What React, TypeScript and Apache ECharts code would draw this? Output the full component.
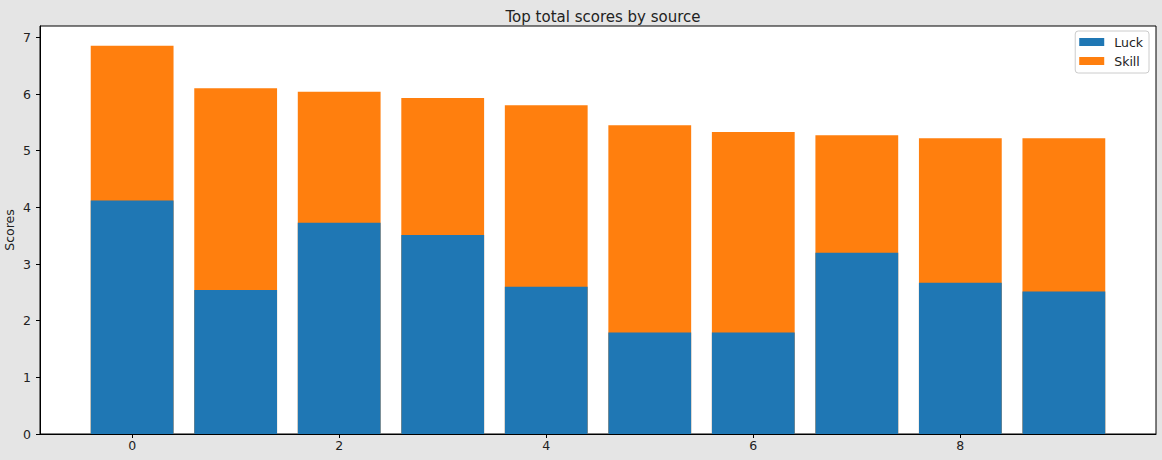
import React, { useEffect, useRef } from "react";
import * as echarts from "echarts";

const positions = [0, 1, 2, 3, 4, 5, 6, 7, 8, 9];
const luck = [4.12, 2.54, 3.73, 3.51, 2.6, 1.79, 1.79, 3.2, 2.67, 2.515];
const skill = [2.73, 3.56, 2.31, 2.42, 3.2, 3.66, 3.54, 2.07, 2.55, 2.705];
const xTicks = [0, 2, 4, 6, 8];
const yTicks = [0, 1, 2, 3, 4, 5, 6, 7];

const FONT = "DejaVu Sans";
const TXT = "#222";

export default function App() {
  const ref = useRef<HTMLDivElement>(null);
  useEffect(() => {
    const chart = echarts.init(ref.current!, null, { renderer: "svg" });
    chart.setOption({
      animation: false,
      backgroundColor: "#e5e5e5",
      textStyle: { fontFamily: FONT },
      title: {
        text: "Top total scores by source",
        left: 598,
        textAlign: "center",
        top: 4,
        textStyle: { fontFamily: FONT, fontSize: 15, fontWeight: "normal", color: TXT },
      },
      legend: {
        orient: "vertical",
        right: 13,
        top: 31,
        padding: [4, 6, 5, 4],
        itemWidth: 25,
        itemHeight: 8,
        itemGap: 5,
        icon: "rect",
        borderColor: "#ccc",
        borderWidth: 1,
        borderRadius: 3,
        backgroundColor: "rgba(255,255,255,0.8)",
        textStyle: { fontFamily: FONT, fontSize: 12.5, color: TXT, lineHeight: 14, padding: [0, 0, 0, 5] },
        data: ["Luck", "Skill"],
      },
      grid: {
        left: 40,
        right: 6,
        top: 26,
        bottom: 26,
        outerBoundsMode: "none",
        containLabel: false,
        show: true,
        backgroundColor: "#fff",
        borderColor: "#000",
        borderWidth: 1,
      },
      xAxis: {
        type: "value",
        min: -0.89,
        max: 9.89,
        splitLine: { show: false },
        axisLine: { show: true, onZero: false, lineStyle: { color: "#000" } },
        axisTick: { show: true, length: 4, customValues: xTicks, lineStyle: { color: "#000" } },
        axisLabel: { customValues: xTicks, margin: 5, fontFamily: FONT, fontSize: 12.5, color: TXT },
      },
      yAxis: {
        type: "value",
        min: 0,
        max: 7.2,
        name: "Scores",
        nameLocation: "middle",
        nameRotate: 90,
        nameGap: 24,
        nameMoveOverlap: false,
        nameTextStyle: { fontFamily: FONT, fontSize: 12.5, color: TXT },
        splitLine: { show: false },
        axisLine: { show: true, onZero: false, lineStyle: { color: "#000" } },
        axisTick: { show: true, length: 4, customValues: yTicks, lineStyle: { color: "#000" } },
        axisLabel: { customValues: yTicks, margin: 9, fontFamily: FONT, fontSize: 12.5, color: TXT },
      },
      series: [
        {
          name: "Skill",
          type: "bar",
          barWidth: 82.8,
          barGap: "-100%",
          itemStyle: { color: "#ff7f0e" },
          data: positions.map((p, i) => [p, luck[i] + skill[i]]),
        },
        {
          name: "Luck",
          type: "bar",
          barWidth: 82.8,
          barGap: "-100%",
          itemStyle: { color: "#1f77b4" },
          data: positions.map((p, i) => [p, luck[i]]),
        },
      ],
    });
    return () => chart.dispose();
  }, []);
  return (
    <div
      ref={ref}
      style={{ position: "fixed", left: 0, top: 0, width: 1162, height: 460 }}
    />
  );
}
